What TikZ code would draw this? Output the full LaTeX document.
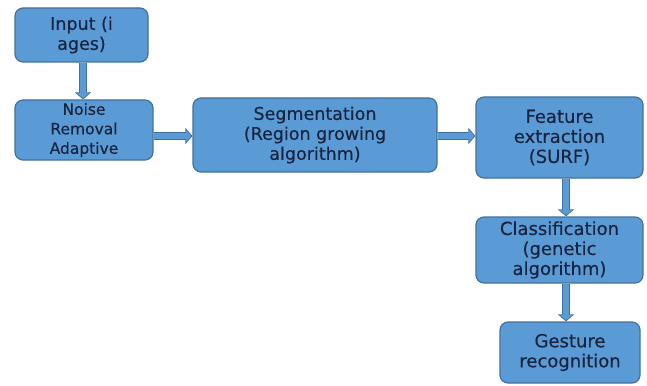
\documentclass[tikz,border=0pt]{standalone}
\usepackage{fontspec}
\setmainfont[FakeBold=0.35]{DejaVu Sans}
\usetikzlibrary{arrows.meta}
\definecolor{boxfill}{HTML}{5B9BD5}
\definecolor{boxline}{HTML}{41719C}
\definecolor{txt}{HTML}{172440}
\tikzset{
  x=1pt, y=-1pt,
  box/.style={draw=boxline, line width=1.2pt, fill=boxfill, rounded corners=8pt,
    align=center, text=txt, inner sep=0pt, font=\fontsize{17.5}{20}\selectfont},
  outerarr/.style={draw=boxline, line width=8.5pt, -{Triangle[width=16pt,length=7pt]}},
  innerarr/.style={draw=boxfill, line width=6pt, -{Triangle[width=12pt,length=5pt]}, shorten >=1.4pt, shorten <=0.8pt},
}
\newcommand{\blockarrow}[2]{%
  \draw[outerarr] (#1) -- (#2);
  \draw[innerarr] (#1) -- (#2);
}
\begin{document}
\begin{tikzpicture}
\useasboundingbox (0,0) rectangle (647,385);
\fill[white] (0,0) rectangle (647,385);
\node[box, minimum width=133pt, minimum height=54pt] (inp) at (81.5,35) {Input (i\\ages)};
\node[box, minimum width=138pt, minimum height=60pt, font=\fontsize{15.5}{19.5}\selectfont] (noise) at (84,130) {Noise\\Removal\\Adaptive};
\node[box, minimum width=244pt, minimum height=74pt] (seg) at (315,135) {Segmentation\\(Region growing\\algorithm)};
\node[box, minimum width=167pt, minimum height=81pt, font=\fontsize{18}{20}\selectfont] (feat) at (559.5,137.5) {Feature\\extraction\\(SURF)};
\node[box, minimum width=167pt, minimum height=66pt, font=\fontsize{18}{20}\selectfont] (cls) at (559.5,250) {Classification\\(genetic\\algorithm)};
\node[box, minimum width=140pt, minimum height=61pt, font=\fontsize{18}{20}\selectfont] (gest) at (570,352.5) {Gesture\\recognition};
\coordinate (a1) at (inp.south -| 83,0);
\coordinate (a2) at (noise.north -| 83,0);
\blockarrow{a1}{a2}
\coordinate (b1) at (noise.east |- 0,136);
\coordinate (b2) at (seg.west |- 0,136);
\blockarrow{b1}{b2}
\coordinate (c1) at (seg.east |- 0,136);
\coordinate (c2) at (feat.west |- 0,136);
\blockarrow{c1}{c2}
\coordinate (d1) at (feat.south -| 566,0);
\coordinate (d2) at (cls.north -| 566,0);
\blockarrow{d1}{d2}
\coordinate (e1) at (cls.south -| 566,0);
\coordinate (e2) at (gest.north -| 566,0);
\blockarrow{e1}{e2}
\end{tikzpicture}
\end{document}
